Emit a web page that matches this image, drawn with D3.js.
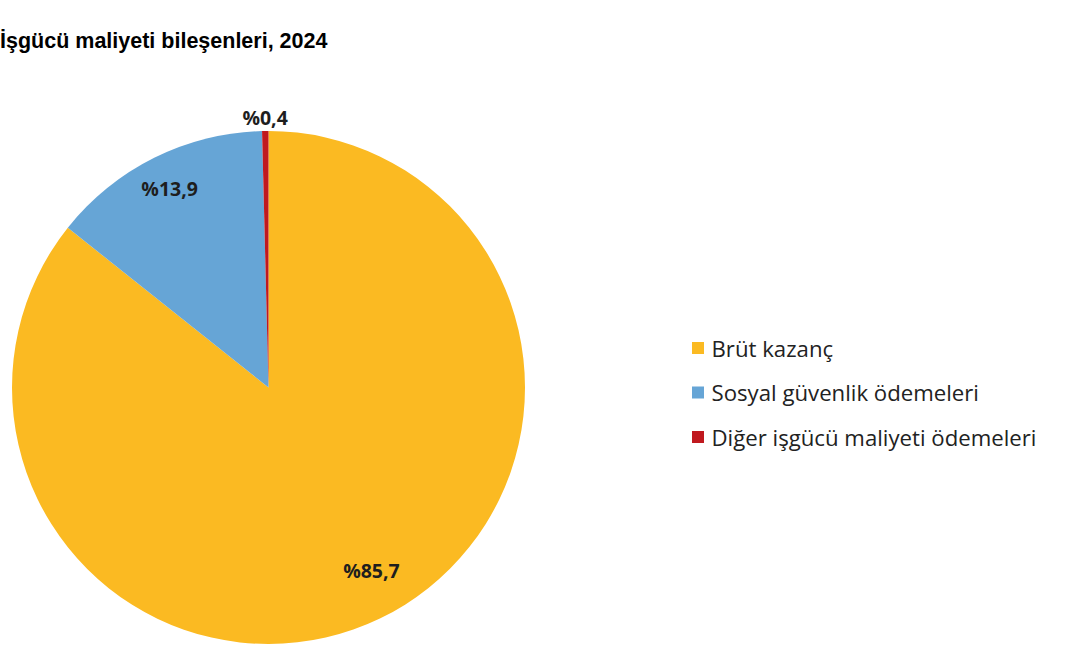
<!DOCTYPE html>
<html>
<head>
<meta charset="utf-8">
<script src="https://cdn.jsdelivr.net/npm/d3@7"></script>
<style>
  html, body { margin: 0; padding: 0; background: #ffffff; }
  svg { display: block; }
</style>
</head>
<body>
<svg id="chart" width="1080" height="665"></svg>
<script>
// ---- Data ----
const titleText = "İşgücü maliyeti bileşenleri, 2024";
const categories = ["Brüt kazanç", "Sosyal güvenlik ödemeleri", "Diğer işgücü maliyeti ödemeleri"];
const values = [85.7, 13.9, 0.4];
const valueLabels = ["%85,7", "%13,9", "%0,4"];
const colors = ["#FBBA22", "#66A5D6", "#C0191F"];

// ---- Layout ----
const W = 1080, H = 665;
const cx = 268.5, cy = 387.5, R = 256.5;

const svg = d3.select("#chart");

svg.append("text")
  .attr("x", 0)
  .attr("y", 48)
  .attr("font-family", "Liberation Sans, Arial, sans-serif")
  .attr("font-weight", "bold")
  .attr("font-size", 21.5)
  .attr("fill", "#000")
  .text(titleText);

const data = categories.map((c, i) => ({ name: c, value: values[i], label: valueLabels[i], color: colors[i] }));

const pie = d3.pie().sort(null).value(d => d.value).startAngle(0).endAngle(2 * Math.PI);
const arcs = pie(data);

const arc = d3.arc().innerRadius(0).outerRadius(R);

const g = svg.append("g").attr("transform", `translate(${cx},${cy})`);

g.selectAll("path.slice")
  .data(arcs)
  .enter().append("path")
  .attr("class", "slice")
  .attr("d", arc)
  .attr("fill", d => d.data.color);

// label placement: inside for big slices, outside for tiny
const labelFont = "Open Sans, sans-serif";
g.selectAll("text.val")
  .data(arcs)
  .enter().append("text")
  .attr("class", "val")
  .attr("transform", (d, i) => {
    const mid = (d.startAngle + d.endAngle) / 2;
    let ang = mid, rr;
    if (d.endAngle - d.startAngle < 0.1) {
      rr = R + 14;
    } else if (i === 0) {
      ang = mid - 0.062; rr = R * 0.82;
    } else {
      rr = R * 0.865;
    }
    const x = Math.sin(ang) * rr, y = -Math.cos(ang) * rr;
    return `translate(${x},${y})`;
  })
  .attr("text-anchor", "middle")
  .attr("dominant-baseline", "central")
  .attr("font-family", labelFont)
  .attr("font-weight", "bold")
  .attr("font-size", 19.5)
  .attr("fill", "#1e1e1e")
  .text(d => d.data.label);

// legend
const legendX = 692, legendY0 = 348, legendStep = 44.5;
const lg = svg.append("g");
const items = lg.selectAll("g.item")
  .data(data)
  .enter().append("g")
  .attr("class", "item")
  .attr("transform", (d, i) => `translate(${legendX},${legendY0 + i * legendStep})`);

items.append("rect")
  .attr("x", 0).attr("y", -6)
  .attr("width", 12).attr("height", 12)
  .attr("fill", d => d.color);

items.append("text")
  .attr("x", 19.5)
  .attr("y", 0)
  .attr("dominant-baseline", "central")
  .attr("font-family", "Open Sans, sans-serif")
  .attr("font-size", 22.2)
  .attr("fill", "#222")
  .text(d => d.name);
</script>
</body>
</html>
